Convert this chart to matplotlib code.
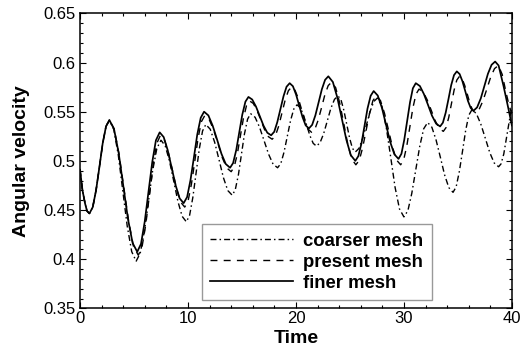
import matplotlib
matplotlib.use("Agg")
import matplotlib.pyplot as plt
from matplotlib.ticker import MultipleLocator

plt.rcParams['font.family'] = ['Liberation Sans', 'DejaVu Sans']

# ---- data ----
labels = ["coarser mesh", "present mesh", "finer mesh"]

finer_t = [0, 0.23, 0.46, 0.65, 0.87, 1.18, 1.49, 1.80, 2.10, 2.41, 2.72,
           3.15, 3.58, 4.01, 4.44, 4.87, 5.3,
           5.65, 5.99, 6.34, 6.69, 7.03, 7.38,
           7.75, 8.12, 8.49, 8.86, 9.23, 9.6,
           9.92, 10.23, 10.55, 10.86, 11.18, 11.49,
           11.89, 12.29, 12.70, 13.10, 13.50, 13.9,
           14.18, 14.47, 14.75, 15.03, 15.32, 15.6,
           15.95, 16.3, 16.65, 17.0, 17.35, 17.7,
           17.99, 18.27, 18.56, 18.85, 19.13, 19.42,
           19.72, 20.01, 20.31, 20.61, 20.90, 21.2,
           21.5, 21.8, 22.1, 22.4, 22.7, 23.0,
           23.42, 23.83, 24.25, 24.67, 25.08, 25.5,
           25.78, 26.07, 26.35, 26.63, 26.92, 27.2,
           27.58, 27.97, 28.35, 28.73, 29.12, 29.5,
           29.77, 30.03, 30.3, 30.57, 30.83, 31.1,
           31.48, 31.85, 32.23, 32.6, 32.98, 33.35,
           33.61, 33.87, 34.13, 34.38, 34.64, 34.9,
           35.16, 35.42, 35.68, 35.93, 36.19, 36.45,
           36.78, 37.12, 37.45, 37.78, 38.12, 38.45,
           38.77, 39.23, 39.7, 40.0]
finer_w = [0.491, 0.470, 0.457, 0.449, 0.4465, 0.4529, 0.4703, 0.4940, 0.5178, 0.5351, 0.5415,
           0.5325, 0.5080, 0.4745, 0.4410, 0.4165, 0.4075,
           0.4156, 0.4379, 0.4683, 0.4986, 0.5209, 0.529,
           0.5242, 0.511, 0.493, 0.475, 0.4618, 0.457,
           0.4632, 0.4803, 0.5035, 0.5268, 0.5438, 0.550,
           0.5462, 0.5357, 0.5215, 0.5072, 0.4968, 0.493,
           0.4978, 0.511, 0.529, 0.547, 0.5602, 0.565,
           0.5624, 0.5552, 0.5455, 0.5357, 0.5286, 0.526,
           0.5296, 0.5393, 0.5525, 0.5658, 0.5754, 0.579,
           0.5759, 0.5675, 0.556, 0.5445, 0.5361, 0.533,
           0.5366, 0.5463, 0.5595, 0.5728, 0.5824, 0.586,
           0.5802, 0.5645, 0.543, 0.5215, 0.5058, 0.500,
           0.5048, 0.5178, 0.5355, 0.5533, 0.5662, 0.571,
           0.5664, 0.5537, 0.5365, 0.5192, 0.5066, 0.502,
           0.5072, 0.5213, 0.5405, 0.5598, 0.5738, 0.579,
           0.5761, 0.568, 0.557, 0.546, 0.5379, 0.535,
           0.5388, 0.549, 0.563, 0.577, 0.5872, 0.591,
           0.5883, 0.581, 0.571, 0.561, 0.5537, 0.551,
           0.5544, 0.5635, 0.576, 0.5885, 0.5977, 0.601,
           0.597, 0.576, 0.552, 0.536]

present_t = [0, 0.23, 0.46, 0.65, 0.87, 1.18, 1.49, 1.80, 2.10, 2.41, 2.72,
             3.17, 3.61, 4.06, 4.51, 4.95, 5.4,
             5.74, 6.08, 6.43, 6.77, 7.11, 7.45,
             7.83, 8.2, 8.58, 8.95, 9.33, 9.7,
             10.01, 10.32, 10.63, 10.93, 11.24, 11.55,
             11.96, 12.37, 12.78, 13.18, 13.59, 14.0,
             14.28, 14.57, 14.85, 15.13, 15.42, 15.7,
             16.05, 16.4, 16.75, 17.1, 17.45, 17.8,
             18.1, 18.4, 18.7, 19.0, 19.3, 19.6,
             19.91, 20.22, 20.53, 20.83, 21.14, 21.45,
             21.76, 22.07, 22.38, 22.68, 22.99, 23.3,
             23.68, 24.05, 24.43, 24.8, 25.18, 25.55,
             25.87, 26.18, 26.5, 26.82, 27.13, 27.45,
             27.83, 28.2, 28.58, 28.95, 29.33, 29.7,
             29.98, 30.27, 30.55, 30.83, 31.12, 31.4,
             31.78, 32.15, 32.53, 32.9, 33.28, 33.65,
             33.9, 34.15, 34.4, 34.65, 34.9, 35.15,
             35.39, 35.63, 35.88, 36.12, 36.36, 36.6,
             36.96, 37.32, 37.68, 38.03, 38.39, 38.75,
             39.1, 39.45, 39.75, 40.0]
present_w = [0.491, 0.470, 0.457, 0.449, 0.4465, 0.4529, 0.4703, 0.4940, 0.5178, 0.5351, 0.5415,
             0.5323, 0.5071, 0.4727, 0.4384, 0.4132, 0.404,
             0.4122, 0.4345, 0.465, 0.4955, 0.5178, 0.526,
             0.5211, 0.5077, 0.4895, 0.4712, 0.4579, 0.453,
             0.4592, 0.4763, 0.4995, 0.5228, 0.5398, 0.546,
             0.5422, 0.5317, 0.5175, 0.5032, 0.4928, 0.489,
             0.4938, 0.507, 0.525, 0.543, 0.5562, 0.561,
             0.5584, 0.5512, 0.5415, 0.5317, 0.5246, 0.522,
             0.5256, 0.5353, 0.5485, 0.5618, 0.5714, 0.575,
             0.5719, 0.5635, 0.552, 0.5405, 0.5321, 0.529,
             0.5324, 0.5418, 0.5545, 0.5673, 0.5766, 0.580,
             0.5744, 0.559, 0.538, 0.517, 0.5016, 0.496,
             0.5007, 0.5135, 0.531, 0.5485, 0.5613, 0.566,
             0.5613, 0.5485, 0.531, 0.5135, 0.5007, 0.496,
             0.5012, 0.5153, 0.5345, 0.5538, 0.5678, 0.573,
             0.5701, 0.5622, 0.5515, 0.5407, 0.5329, 0.530,
             0.5338, 0.544, 0.558, 0.572, 0.5822, 0.586,
             0.5835, 0.5768, 0.5675, 0.5583, 0.5515, 0.549,
             0.5522, 0.561, 0.573, 0.585, 0.5938, 0.597,
             0.588, 0.570, 0.556, 0.548]

coarser_t = [0, 0.23, 0.46, 0.65, 0.87, 1.18, 1.49, 1.80, 2.10, 2.41, 2.72,
             3.13, 3.55, 3.96, 4.37, 4.79, 5.2,
             5.58, 5.97, 6.35, 6.73, 7.12, 7.5,
             7.89, 8.28, 8.68, 9.07, 9.46, 9.85,
             10.15, 10.45, 10.75, 11.05, 11.35, 11.65,
             12.06, 12.47, 12.88, 13.28, 13.69, 14.1,
             14.38, 14.67, 14.95, 15.23, 15.52, 15.8,
             16.22, 16.63, 17.05, 17.47, 17.88, 18.3,
             18.6, 18.9, 19.2, 19.5, 19.8, 20.1,
             20.4, 20.7, 21.0, 21.3, 21.6, 21.9,
             22.23, 22.57, 22.9, 23.23, 23.57, 23.9,
             24.17, 24.43, 24.7, 24.97, 25.23, 25.5,
             25.84, 26.18, 26.53, 26.87, 27.21, 27.55,
             27.96, 28.37, 28.78, 29.18, 29.59, 30.0,
             30.37, 30.73, 31.1, 31.47, 31.83, 32.2,
             32.59, 32.98, 33.38, 33.77, 34.16, 34.55,
             34.84, 35.13, 35.43, 35.72, 36.01, 36.3,
             36.71, 37.12, 37.54, 37.95, 38.36, 38.77,
             39.0, 39.25, 39.54, 39.8, 40.0]
coarser_w = [0.491, 0.470, 0.457, 0.449, 0.4465, 0.4529, 0.4703, 0.4940, 0.5178, 0.5351, 0.5415,
             0.5319, 0.5056, 0.4697, 0.4339, 0.4076, 0.398,
             0.4062, 0.4288, 0.4595, 0.4903, 0.5128, 0.521,
             0.5154, 0.5002, 0.4795, 0.4587, 0.4436, 0.438,
             0.4446, 0.4628, 0.4875, 0.5123, 0.5304, 0.537,
             0.5322, 0.519, 0.501, 0.483, 0.4698, 0.465,
             0.4706, 0.4858, 0.5065, 0.5273, 0.5424, 0.548,
             0.5443, 0.5342, 0.5205, 0.5067, 0.4967, 0.493,
             0.4973, 0.509, 0.525, 0.541, 0.5527, 0.557,
             0.5542, 0.5465, 0.536, 0.5255, 0.5178, 0.515,
             0.5184, 0.5278, 0.5405, 0.5533, 0.5626, 0.566,
             0.5622, 0.5517, 0.5375, 0.5232, 0.5128, 0.509,
             0.5127, 0.5228, 0.5365, 0.5503, 0.5603, 0.564,
             0.5559, 0.5337, 0.5035, 0.4732, 0.4511, 0.443,
             0.4494, 0.467, 0.491, 0.515, 0.5326, 0.539,
             0.5342, 0.5212, 0.5035, 0.4857, 0.4728, 0.468,
             0.4736, 0.489, 0.510, 0.531, 0.5464, 0.552,
             0.5481, 0.5375, 0.523, 0.5085, 0.4979, 0.494,
             0.497, 0.507, 0.526, 0.543, 0.555]

x_ticks = [0, 10, 20, 30, 40]
y_ticks = [0.35, 0.4, 0.45, 0.5, 0.55, 0.6, 0.65]
y_tick_labels = ["0.35", "0.4", "0.45", "0.5", "0.55", "0.6", "0.65"]

# ---- figure ----
fig = plt.figure(figsize=(5.25, 3.52), dpi=100)
ax = fig.add_axes([0.1524, 0.124, 0.8226, 0.838])

ax.plot(coarser_t, coarser_w, color="black", lw=1.0,
        linestyle=(0, (4.3, 2.2, 1.1, 2.2)), label=labels[0])
ax.plot(present_t, present_w, color="black", lw=1.0,
        linestyle=(0, (5.0, 4.5)), label=labels[1])
ax.plot(finer_t, finer_w, color="black", lw=1.25,
        linestyle="-", label=labels[2])

ax.set_xlim(0, 40)
ax.set_ylim(0.35, 0.65)
ax.set_xticks(x_ticks)
ax.set_yticks(y_ticks)
ax.set_yticklabels(y_tick_labels)
ax.xaxis.set_minor_locator(MultipleLocator(2))
ax.yaxis.set_minor_locator(MultipleLocator(0.01))
ax.tick_params(which="both", direction="in", top=True, right=True, width=0.8)
ax.tick_params(which="major", length=4.5, labelsize=12)
ax.tick_params(which="minor", length=2.3)
ax.tick_params(axis="y", pad=3.5)
ax.tick_params(axis="x", pad=2.0)
for s in ax.spines.values():
    s.set_linewidth(1.1)

ax.set_xlabel("Time", fontsize=14, fontweight="bold", labelpad=3)
ax.set_ylabel("Angular velocity", fontsize=14, fontweight="bold", labelpad=9)

leg = ax.legend(loc="lower left", bbox_to_anchor=(0.282, 0.028),
                prop={"size": 13.3, "weight": "bold"}, frameon=True,
                fancybox=False, edgecolor="#999999", framealpha=1,
                handlelength=4.5, handletextpad=0.55, labelspacing=0.22,
                borderpad=0.45, borderaxespad=0)
leg.get_frame().set_linewidth(1.0)

fig.savefig("out.png", dpi=100)
